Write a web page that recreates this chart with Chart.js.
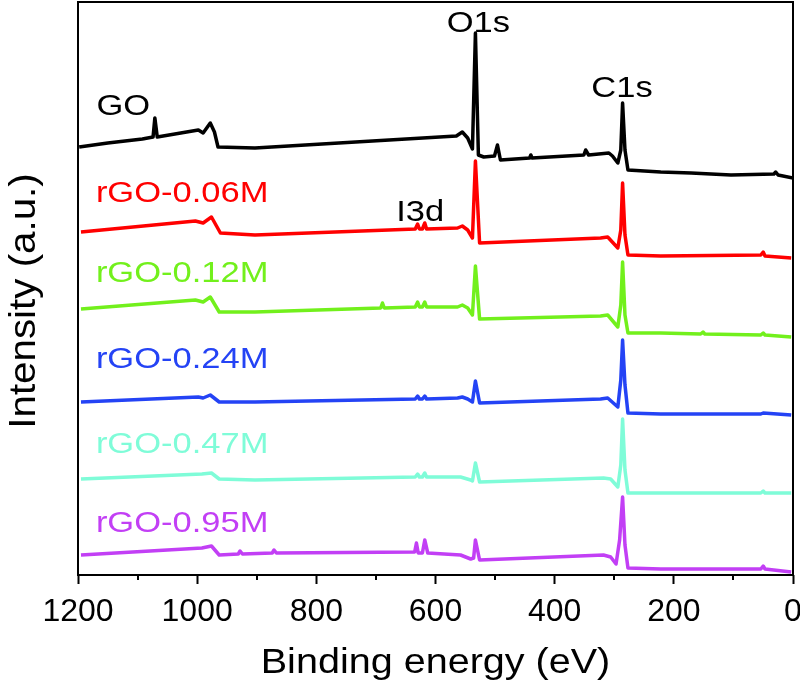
<!DOCTYPE html>
<html>
<head>
<meta charset="utf-8">
<title>XPS survey spectra</title>
<script src="https://cdn.jsdelivr.net/npm/chart.js@4.4.0/dist/chart.umd.min.js"></script>
<style>
  html, body { margin: 0; padding: 0; background: #fff; }
  #wrap { width: 800px; height: 691px; }
</style>
</head>
<body>
<div id="wrap"><canvas id="xps-chart"></canvas></div>
<script>
// Binding energy (eV) and stacked intensity (a.u.)
const goEnergy = [1198, 1150, 1092, 1074, 1071, 1067, 998, 990, 978, 971, 965, 903, 565, 555, 546, 538, 533, 528, 519, 501, 496, 491, 442, 440, 438, 351, 348, 343, 309, 303, 294, 289, 286, 282, 277, 222, 171, 104, 32, 29, 25, 0]
const goIntensity = [428, 432, 436, 438, 457, 438, 445, 442, 452, 443, 428, 427, 439, 443, 437, 426, 542, 420, 418, 419, 430, 415, 417, 420, 417, 420, 425, 420, 422, 419, 412, 425, 472, 425, 405, 403, 402, 400, 401, 403, 400, 397]

const rgo006Energy = [1195, 1003, 990, 976, 961, 903, 634, 630, 627, 622, 618, 615, 563, 555, 546, 538, 533, 526, 323, 311, 294, 289, 286, 282, 277, 222, 54, 50, 47, 3]
const rgo006Intensity = [343, 354, 352, 358, 342, 340, 346, 351, 346, 346, 352, 346, 347, 349, 345, 337, 414, 332, 337, 338, 327, 345, 392, 340, 320, 319, 320, 323, 319, 317]

const rgo012Energy = [1195, 1003, 990, 978, 963, 903, 692, 689, 686, 634, 630, 627, 622, 618, 615, 563, 555, 546, 538, 533, 526, 323, 311, 294, 289, 286, 282, 277, 222, 155, 151, 148, 54, 50, 47, 3]
const rgo012Intensity = [266, 275, 273, 278, 263, 263, 267, 272, 267, 268, 273, 268, 268, 273, 268, 268, 270, 267, 260, 309, 256, 259, 260, 248, 270, 313, 260, 242, 242, 241, 243, 241, 240, 242, 240, 238]

const rgo024Energy = [1195, 998, 990, 978, 963, 903, 634, 630, 627, 622, 618, 615, 563, 555, 546, 538, 533, 526, 323, 311, 294, 289, 286, 282, 277, 222, 54, 50, 3]
const rgo024Intensity = [173, 178, 177, 180, 173, 173, 176, 179, 176, 176, 179, 176, 177, 178, 176, 173, 194, 172, 176, 177, 168, 195, 235, 190, 162, 161, 161, 162, 160]

const rgo047Energy = [1195, 992, 976, 963, 903, 634, 630, 627, 622, 618, 615, 558, 541, 538, 533, 526, 318, 306, 294, 289, 286, 282, 277, 222, 54, 50, 47, 3]
const rgo047Intensity = [96, 101, 102, 96, 95, 98, 101, 98, 98, 102, 98, 98, 95, 94, 112, 93, 97, 96, 88, 110, 156, 105, 82, 82, 82, 84, 82, 82]

const rgo095Energy = [1195, 992, 976, 963, 931, 928, 924, 874, 871, 867, 635, 632, 629, 622, 618, 613, 558, 541, 536, 533, 526, 318, 306, 297, 291, 286, 282, 277, 222, 54, 50, 47, 3]
const rgo095Intensity = [20, 27, 29, 20, 21, 24, 21, 22, 25, 22, 23, 32, 22, 22, 35, 22, 20, 16, 17, 35, 15, 20, 18, 11, 35, 78, 30, 7, 6, 6, 9, 6, 3]

const sampleNames = ['GO', 'rGO-0.06M', 'rGO-0.12M', 'rGO-0.24M', 'rGO-0.47M', 'rGO-0.95M']
const sampleColors = ['#000000', '#ff0000', '#72f01c', '#2443f5', '#7ffcd8', '#c23ff5']

const majorTicks = [1200, 1000, 800, 600, 400, 200, 0]
const minorTicks = [1100, 900, 700, 500, 300, 100]

const xTitle = 'Binding energy (eV)'
const yTitle = 'Intensity (a.u.)'

// text written inside the plot, placed in data units (eV, intensity)
const plotLabels = [
  { text: 'GO', x: 1169, y: 460, color: '#000000', align: 'left' },
  { text: 'rGO-0.06M', x: 1170, y: 373, color: '#ff0000', align: 'left' },
  { text: 'rGO-0.12M', x: 1170, y: 293, color: '#72f01c', align: 'left' },
  { text: 'rGO-0.24M', x: 1170, y: 207, color: '#2443f5', align: 'left' },
  { text: 'rGO-0.47M', x: 1170, y: 122, color: '#7ffcd8', align: 'left' },
  { text: 'rGO-0.95M', x: 1170, y: 43, color: '#c23ff5', align: 'left' },
  { text: 'O1s', x: 528, y: 543, color: '#000000', align: 'center' },
  { text: 'C1s', x: 287, y: 478, color: '#000000', align: 'center' },
  { text: 'I3d', x: 666, y: 354, color: '#000000', align: 'left' }
]

const FONT = 'Liberation Sans, Arial, Helvetica, sans-serif'
const TEXT_STRETCH = 1.15

const spectra = [
  [goEnergy, goIntensity],
  [rgo006Energy, rgo006Intensity],
  [rgo012Energy, rgo012Intensity],
  [rgo024Energy, rgo024Intensity],
  [rgo047Energy, rgo047Intensity],
  [rgo095Energy, rgo095Intensity]
]

const datasets = spectra.map(function(s, i) {
  return {
    label: sampleNames[i],
    data: s[0].map(function(e, j) { return { x: e, y: s[1][j] } }),
    borderColor: sampleColors[i],
    backgroundColor: sampleColors[i],
    borderWidth: 3.5,
    pointRadius: 0,
    tension: 0,
    borderJoinStyle: 'round',
    fill: false
  }
})

function stretchedText(ctx, text, px, py, angle, stretch, align) {
  ctx.save()
  ctx.translate(px, py)
  ctx.rotate(angle)
  ctx.scale(stretch, 1)
  ctx.textAlign = align
  ctx.fillText(text, 0, 0)
  ctx.restore()
}

// frame, minor ticks, axis titles and in-plot labels
const xpsDecor = {
  id: 'xpsDecor',
  afterDraw(chart) {
    const ctx = chart.ctx
    const a = chart.chartArea
    const x = chart.scales.x
    const y = chart.scales.y
    ctx.save()
    ctx.strokeStyle = '#000'
    ctx.lineWidth = 2
    ctx.strokeRect(a.left, a.top, a.right - a.left, a.bottom - a.top)

    ctx.beginPath()
    minorTicks.forEach(function(v) {
      const px = Math.round(x.getPixelForValue(v))
      ctx.moveTo(px, a.bottom)
      ctx.lineTo(px, a.bottom + 5)
    })
    ctx.stroke()

    ctx.textBaseline = 'alphabetic'
    ctx.fillStyle = '#000'
    ctx.font = '35px ' + FONT
    stretchedText(ctx, xTitle, (a.left + a.right) / 2, 673, 0, 1.13, 'center')
    ctx.font = '36px ' + FONT
    stretchedText(ctx, yTitle, 35, 301, -Math.PI / 2, 1.12, 'center')

    ctx.font = '30px ' + FONT
    plotLabels.forEach(function(l) {
      ctx.fillStyle = l.color
      stretchedText(ctx, l.text, x.getPixelForValue(l.x), y.getPixelForValue(l.y), 0, TEXT_STRETCH, l.align)
    })
    ctx.restore()
  }
}

const chart = new Chart(document.getElementById('xps-chart'), {
  type: 'line',
  data: { datasets: datasets },
  plugins: [xpsDecor],
  options: {
    responsive: true,
    maintainAspectRatio: false,
    devicePixelRatio: 1,
    animation: false,
    layout: { padding: { top: 2, right: 7, left: 0, bottom: 0 } },
    plugins: {
      legend: { display: false },
      tooltip: { enabled: false }
    },
    scales: {
      x: {
        type: 'linear',
        reverse: true,
        min: 0,
        max: 1200,
        afterBuildTicks: function(scale) {
          scale.ticks = majorTicks.map(function(v) { return { value: v } })
        },
        afterFit: function(scale) {
          scale.height = 116
          scale.paddingLeft = 0
          scale.paddingRight = 0
        },
        border: { display: false },
        grid: {
          drawOnChartArea: false,
          drawTicks: true,
          tickLength: 9,
          tickWidth: 2,
          tickColor: '#000'
        },
        ticks: {
          autoSkip: false,
          maxRotation: 0,
          padding: 9,
          color: '#000',
          font: { family: FONT, size: 32 },
          callback: function(v) { return String(v) }
        }
      },
      y: {
        type: 'linear',
        min: 0,
        max: 573,
        afterFit: function(scale) {
          scale.width = 78
        },
        border: { display: false },
        grid: { display: false },
        ticks: { display: false }
      }
    }
  }
})
</script>
</body>
</html>
